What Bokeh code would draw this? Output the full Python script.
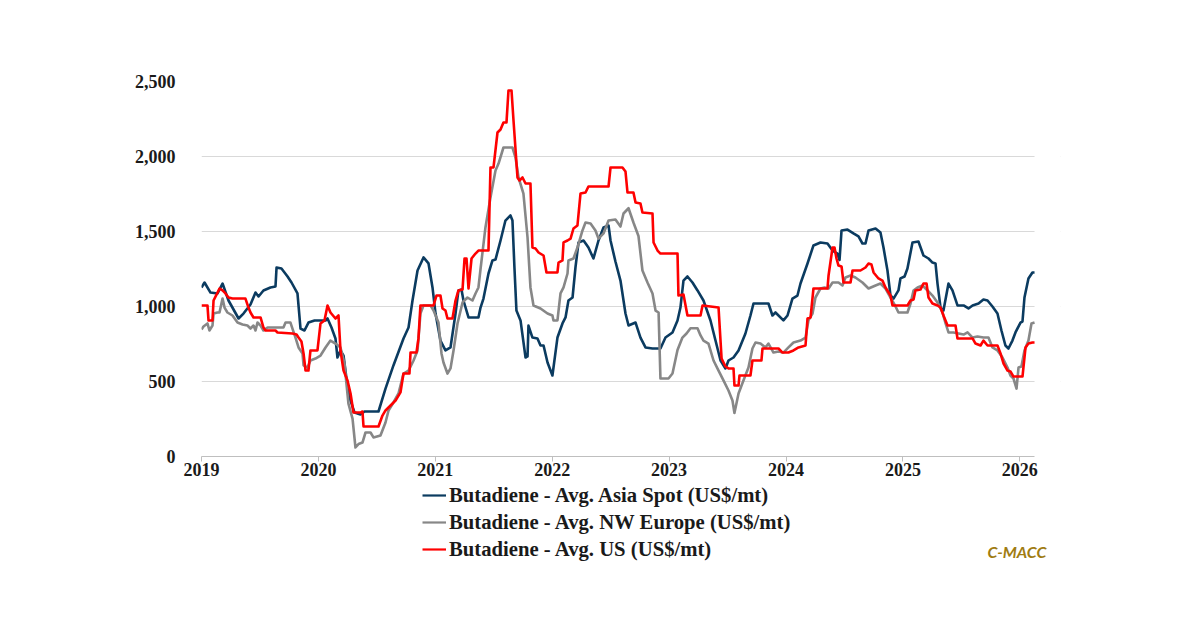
from bokeh.plotting import figure
from bokeh.layouts import column
from bokeh.models import Range1d, FixedTicker, NumeralTickFormatter, Legend, LegendItem, Label, BoxAnnotation
from bokeh.embed import file_html
from bokeh.resources import INLINE

# ---- data (time in decimal years, prices in US$/mt) ----
asia_t = [2019.000, 2019.026, 2019.077, 2019.137, 2019.180, 2019.231, 2019.317, 2019.359, 2019.419, 2019.462,
          2019.488, 2019.530, 2019.590, 2019.633, 2019.642, 2019.684, 2019.736, 2019.770, 2019.821, 2019.847,
          2019.881, 2019.915, 2019.967, 2020.061, 2020.078, 2020.112, 2020.146, 2020.163, 2020.189, 2020.215,
          2020.240, 2020.275, 2020.309, 2020.360, 2020.394, 2020.514, 2020.574, 2020.642, 2020.728, 2020.771,
          2020.805, 2020.848, 2020.899, 2020.942, 2020.976, 2021.002, 2021.044, 2021.087, 2021.130, 2021.173,
          2021.198, 2021.224, 2021.241, 2021.284, 2021.369, 2021.387, 2021.412, 2021.455, 2021.489, 2021.515,
          2021.558, 2021.600, 2021.643, 2021.660, 2021.677, 2021.694, 2021.729, 2021.772, 2021.789, 2021.797,
          2021.831, 2021.874, 2021.900, 2021.926, 2021.960, 2022.002, 2022.045, 2022.088, 2022.114, 2022.139,
          2022.174, 2022.199, 2022.225, 2022.268, 2022.310, 2022.353, 2022.396, 2022.439, 2022.482, 2022.499,
          2022.541, 2022.584, 2022.627, 2022.653, 2022.713, 2022.755, 2022.798, 2022.858, 2022.926, 2022.969,
          2023.029, 2023.072, 2023.097, 2023.123, 2023.157, 2023.200, 2023.243, 2023.294, 2023.354, 2023.397,
          2023.440, 2023.482, 2023.508, 2023.551, 2023.594, 2023.653, 2023.696, 2023.722, 2023.782, 2023.850,
          2023.884, 2023.910, 2023.978, 2024.013, 2024.055, 2024.098, 2024.124, 2024.184, 2024.235, 2024.295,
          2024.355, 2024.398, 2024.440, 2024.458, 2024.475, 2024.526, 2024.577, 2024.620, 2024.654, 2024.680,
          2024.706, 2024.766, 2024.808, 2024.834, 2024.868, 2024.894, 2024.920, 2024.962, 2024.979, 2025.014,
          2025.039, 2025.082, 2025.133, 2025.176, 2025.219, 2025.253, 2025.279, 2025.296, 2025.322, 2025.347,
          2025.390, 2025.424, 2025.467, 2025.519, 2025.561, 2025.596, 2025.647, 2025.689, 2025.724, 2025.766,
          2025.809, 2025.843, 2025.877, 2025.903, 2025.937, 2025.963, 2026.006, 2026.023, 2026.040, 2026.074,
          2026.108, 2026.126]
asia_v = [1127, 1160, 1093, 1087, 1153, 1040, 920, 953, 1013, 1093,
          1067, 1107, 1127, 1133, 1260, 1253, 1200, 1160, 1087, 853,
          840, 893, 907, 907, 920, 860, 787, 660, 707, 673,
          520, 373, 293, 280, 300, 300, 453, 607, 787, 860,
          1040, 1240, 1327, 1287, 1127, 953, 773, 707, 727, 953,
          1107, 1113, 1040, 927, 927, 993, 1053, 1220, 1307, 1313,
          1440, 1573, 1607, 1573, 1260, 973, 907, 660, 667, 873,
          793, 787, 740, 740, 627, 540, 793, 887, 927, 1040,
          1060, 1260, 1427, 1440, 1393, 1320, 1440, 1527, 1540, 1440,
          1300, 1173, 953, 873, 893, 793, 727, 720, 720, 793,
          827, 907, 993, 1173, 1200, 1160, 1107, 1040, 907, 773,
          640, 587, 640, 660, 707, 820, 940, 1020, 1020, 1020,
          940, 960, 907, 940, 1053, 1073, 1153, 1287, 1407, 1427,
          1420, 1373, 1353, 1310, 1507, 1513, 1487, 1467, 1420, 1420,
          1507, 1520, 1493, 1393, 1240, 1073, 1053, 1107, 1187, 1200,
          1253, 1427, 1433, 1340, 1320, 1293, 1287, 1153, 993, 973,
          1153, 1107, 1007, 1007, 987, 1007, 1020, 1047, 1040, 1000,
          953, 840, 740, 720, 773, 827, 893, 900, 1060, 1187,
          1227, 1227]

europe_t = [2019.000, 2019.017, 2019.051, 2019.068, 2019.094, 2019.103, 2019.137, 2019.154, 2019.180, 2019.197,
            2019.222, 2019.265, 2019.308, 2019.351, 2019.393, 2019.419, 2019.445, 2019.462, 2019.479, 2019.505,
            2019.530, 2019.565, 2019.701, 2019.719, 2019.761, 2019.778, 2019.804, 2019.830, 2019.864, 2019.873,
            2019.907, 2019.932, 2019.975, 2020.018, 2020.061, 2020.103, 2020.146, 2020.189, 2020.223, 2020.257,
            2020.292, 2020.317, 2020.343, 2020.377, 2020.403, 2020.446, 2020.471, 2020.531, 2020.574, 2020.600,
            2020.642, 2020.685, 2020.728, 2020.771, 2020.814, 2020.848, 2020.873, 2020.899, 2020.959, 2020.985,
            2021.027, 2021.053, 2021.070, 2021.104, 2021.130, 2021.156, 2021.190, 2021.233, 2021.275, 2021.318,
            2021.344, 2021.369, 2021.387, 2021.429, 2021.472, 2021.515, 2021.541, 2021.583, 2021.660, 2021.686,
            2021.712, 2021.754, 2021.789, 2021.814, 2021.840, 2021.900, 2021.960, 2022.002, 2022.011, 2022.045,
            2022.071, 2022.097, 2022.131, 2022.139, 2022.182, 2022.216, 2022.259, 2022.285, 2022.328, 2022.370,
            2022.396, 2022.439, 2022.482, 2022.541, 2022.584, 2022.610, 2022.653, 2022.695, 2022.738, 2022.772,
            2022.815, 2022.858, 2022.884, 2022.910, 2022.926, 2022.995, 2023.029, 2023.072, 2023.114, 2023.149,
            2023.183, 2023.243, 2023.269, 2023.294, 2023.337, 2023.380, 2023.423, 2023.465, 2023.508, 2023.542,
            2023.559, 2023.594, 2023.636, 2023.679, 2023.713, 2023.739, 2023.782, 2023.824, 2023.850, 2023.893,
            2023.936, 2023.978, 2024.021, 2024.064, 2024.124, 2024.167, 2024.192, 2024.227, 2024.252, 2024.295,
            2024.329, 2024.364, 2024.398, 2024.449, 2024.483, 2024.509, 2024.552, 2024.594, 2024.654, 2024.706,
            2024.766, 2024.808, 2024.851, 2024.894, 2024.937, 2024.962, 2025.039, 2025.065, 2025.091, 2025.125,
            2025.168, 2025.211, 2025.253, 2025.296, 2025.339, 2025.365, 2025.390, 2025.433, 2025.476, 2025.519,
            2025.553, 2025.596, 2025.638, 2025.689, 2025.732, 2025.766, 2025.809, 2025.852, 2025.895, 2025.920,
            2025.946, 2025.972, 2025.989, 2026.014, 2026.040, 2026.074, 2026.100, 2026.126]
europe_v = [847, 867, 887, 840, 873, 953, 960, 960, 1053, 993,
            960, 940, 893, 880, 873, 853, 873, 840, 893, 873,
            840, 860, 860, 893, 893, 853, 793, 727, 687, 607,
            593, 640, 653, 673, 727, 773, 753, 727, 620, 353,
            253, 60, 83, 93, 160, 160, 127, 140, 227, 307,
            360, 420, 553, 573, 640, 707, 953, 1007, 1007, 973,
            893, 687, 627, 553, 587, 707, 887, 1027, 1060, 1040,
            1087, 1127, 1250, 1527, 1727, 1907, 1953, 2060, 2060, 1993,
            1860, 1753, 1460, 1127, 1007, 987, 953, 940, 907, 907,
            1087, 1127, 1220, 1307, 1320, 1393, 1507, 1560, 1553, 1507,
            1453, 1487, 1573, 1580, 1533, 1620, 1655, 1560, 1470, 1240,
            1160, 1087, 973, 960, 520, 520, 553, 710, 793, 820,
            855, 855, 807, 773, 753, 640, 573, 507, 440, 373,
            290, 420, 507, 593, 720, 760, 753, 727, 753, 693,
            700, 693, 727, 760, 773, 793, 907, 953, 1060, 1120,
            1127, 1120, 1160, 1160, 1140, 1193, 1207, 1193, 1160, 1120,
            1140, 1153, 1120, 1060, 1000, 960, 960, 1020, 1107, 1127,
            1140, 1107, 1073, 1027, 960, 887, 827, 827, 820, 813,
            827, 793, 800, 793, 793, 727, 707, 660, 593, 540,
            520, 453, 593, 600, 707, 773, 887, 893]

us_t = [2019.000, 2019.051, 2019.060, 2019.094, 2019.103, 2019.137, 2019.154, 2019.180, 2019.205, 2019.231,
        2019.265, 2019.376, 2019.402, 2019.419, 2019.445, 2019.505, 2019.530, 2019.547, 2019.633, 2019.650,
        2019.778, 2019.813, 2019.830, 2019.855, 2019.873, 2019.890, 2019.915, 2019.932, 2019.992, 2020.018,
        2020.052, 2020.078, 2020.103, 2020.146, 2020.172, 2020.189, 2020.215, 2020.249, 2020.275, 2020.300,
        2020.360, 2020.377, 2020.386, 2020.514, 2020.548, 2020.574, 2020.617, 2020.660, 2020.702, 2020.728,
        2020.779, 2020.788, 2020.839, 2020.856, 2020.873, 2020.985, 2021.010, 2021.044, 2021.062, 2021.087,
        2021.104, 2021.147, 2021.173, 2021.198, 2021.233, 2021.250, 2021.267, 2021.284, 2021.310, 2021.344,
        2021.369, 2021.455, 2021.472, 2021.498, 2021.532, 2021.558, 2021.583, 2021.609, 2021.626, 2021.652,
        2021.669, 2021.703, 2021.720, 2021.746, 2021.772, 2021.814, 2021.831, 2021.857, 2021.883, 2021.926,
        2021.951, 2022.045, 2022.054, 2022.088, 2022.097, 2022.131, 2022.157, 2022.182, 2022.216, 2022.242,
        2022.285, 2022.310, 2022.482, 2022.499, 2022.601, 2022.627, 2022.644, 2022.695, 2022.713, 2022.755,
        2022.772, 2022.858, 2022.867, 2022.901, 2022.926, 2023.072, 2023.080, 2023.123, 2023.157, 2023.269,
        2023.286, 2023.423, 2023.449, 2023.482, 2023.508, 2023.551, 2023.559, 2023.594, 2023.602, 2023.696,
        2023.713, 2023.790, 2023.799, 2023.936, 2023.970, 2024.021, 2024.064, 2024.107, 2024.167, 2024.184,
        2024.210, 2024.235, 2024.355, 2024.364, 2024.398, 2024.415, 2024.432, 2024.449, 2024.475, 2024.492,
        2024.552, 2024.569, 2024.637, 2024.680, 2024.706, 2024.731, 2024.749, 2024.791, 2024.825, 2024.851,
        2024.894, 2024.911, 2025.039, 2025.065, 2025.091, 2025.107, 2025.150, 2025.176, 2025.202, 2025.219,
        2025.253, 2025.296, 2025.322, 2025.347, 2025.382, 2025.450, 2025.467, 2025.596, 2025.621, 2025.664,
        2025.689, 2025.724, 2025.809, 2025.835, 2025.861, 2025.895, 2025.920, 2025.946, 2026.023, 2026.049,
        2026.074, 2026.108, 2026.126]
us_v = [1007, 1007, 907, 907, 1040, 1093, 1120, 1107, 1087, 1060,
        1053, 1053, 993, 960, 927, 927, 860, 840, 840, 827,
        820, 813, 793, 767, 687, 573, 573, 707, 707, 887,
        907, 1007, 960, 920, 940, 707, 573, 507, 420, 293,
        293, 300, 200, 200, 273, 307, 340, 373, 427, 553,
        553, 693, 693, 787, 1007, 1007, 1073, 1073, 987, 973,
        920, 920, 1040, 1107, 1113, 1320, 1320, 1120, 1320, 1353,
        1373, 1373, 1927, 1927, 2160, 2180, 2227, 2227, 2440, 2440,
        2240, 1860, 1840, 1860, 1820, 1820, 1393, 1387, 1360, 1340,
        1227, 1227, 1293, 1307, 1427, 1440, 1453, 1520, 1540, 1753,
        1760, 1800, 1800, 1927, 1927, 1900, 1760, 1760, 1693, 1687,
        1627, 1620, 1427, 1373, 1353, 1353, 1073, 1080, 940, 940,
        1007, 993, 653, 600, 587, 587, 473, 473, 540, 540,
        640, 640, 720, 720, 693, 693, 707, 727, 740, 920,
        927, 1120, 1120, 1207, 1393, 1393, 1320, 1273, 1267, 1160,
        1160, 1240, 1240, 1260, 1287, 1280, 1227, 1187, 1173, 1127,
        1073, 1007, 1007, 1040, 1047, 1107, 1113, 1153, 1153, 1060,
        1020, 1007, 993, 940, 873, 873, 787, 787, 753, 740,
        773, 740, 740, 687, 620, 573, 567, 533, 533, 727,
        753, 760, 760]

year_ticks = [2019, 2020, 2021, 2022, 2023, 2024, 2025, 2026]
value_ticks = [0, 500, 1000, 1500, 2000, 2500]
series_names = ["Butadiene - Avg. Asia Spot (US$/mt)",
                "Butadiene - Avg. NW Europe (US$/mt)",
                "Butadiene - Avg. US (US$/mt)"]
series_colors = ["#0b3b60", "#878787", "#ff0000"]
source_note = "C-MACC"

serif = "Liberation Serif"
W = 1184
PH = 483          # height of the chart part
LH = 611 - PH     # height of the legend strip
FRAME_L, FRAME_R = 201, 1060     # frame, a little wider than the data so the source note fits below
X0 = 2019.0
X_DATA_END = max(asia_t[-1], europe_t[-1], us_t[-1])
PX_PER_YEAR = 116.9
X1 = X0 + (FRAME_R - FRAME_L) / PX_PER_YEAR

# ---------------- main chart ----------------
p = figure(width=W, height=PH, output_backend="svg", toolbar_location=None,
           x_range=Range1d(X0, X1), y_range=Range1d(0, 2500),
           min_border_left=FRAME_L, min_border_right=W - FRAME_R, min_border_top=81, min_border_bottom=PH - 456)
p.outline_line_color = None
p.background_fill_color = "white"
p.border_fill_color = "white"

p.xgrid.grid_line_color = None
p.ygrid.grid_line_color = "#d9d9d9"
p.ygrid.grid_line_width = 1.2
p.ygrid.ticker = FixedTicker(ticks=value_ticks)

p.xaxis.ticker = FixedTicker(ticks=year_ticks)
p.xaxis.bounds = (X0, X_DATA_END)
p.xaxis.major_label_overrides = {y: str(y) for y in year_ticks}
p.xaxis.axis_line_color = "#bfbfbf"
p.xaxis.axis_line_width = 1.2
p.xaxis.major_tick_line_color = "#bfbfbf"
p.xaxis.major_tick_in = 0
p.xaxis.major_tick_out = 5
p.xaxis.minor_tick_line_color = None
p.xaxis.major_label_standoff = 1
p.xaxis.major_label_text_font = serif
p.xaxis.major_label_text_font_style = "bold"
p.xaxis.major_label_text_font_size = "18px"
p.xaxis.major_label_text_color = "#1a1a1a"

p.yaxis.ticker = FixedTicker(ticks=value_ticks)
p.yaxis.formatter = NumeralTickFormatter(format="0,0")
p.yaxis.axis_line_color = None
p.yaxis.major_tick_line_color = None
p.yaxis.minor_tick_line_color = None
p.yaxis.major_label_standoff = 20
p.yaxis.major_label_text_font = serif
p.yaxis.major_label_text_font_style = "bold"
p.yaxis.major_label_text_font_size = "18px"
p.yaxis.major_label_text_color = "#1a1a1a"

# white mask so the grid lines stop where the data stops
p.add_layout(BoxAnnotation(left=X_DATA_END, fill_color="white", fill_alpha=1.0,
                           line_color=None, level="underlay"))

for t, v, c in [(asia_t, asia_v, series_colors[0]),
                (europe_t, europe_v, series_colors[1]),
                (us_t, us_v, series_colors[2])]:
    p.line(t, v, line_color=c, line_width=2.6, line_join="round")

# ---------------- legend strip below (frame aligned with the chart's frame) ----------------
q = figure(width=W, height=LH, output_backend="svg", toolbar_location=None,
           x_range=Range1d(FRAME_L, FRAME_R), y_range=Range1d(611, PH),
           min_border_left=FRAME_L, min_border_right=W - FRAME_R, min_border_top=0, min_border_bottom=0)
q.axis.visible = False
q.grid.visible = False
q.outline_line_color = None
q.background_fill_color = "white"
q.border_fill_color = "white"

# legend sample lines (kept outside the visible strip; only their legend glyphs show)
legend_renderers = [q.line(x=[0, 1], y=[0, 0], line_color=c, line_width=2.2) for c in series_colors]
row_h = 24
legend_h = 3 * row_h + 2 * 3
legend = Legend(items=[LegendItem(label=n, renderers=[r]) for n, r in zip(series_names, legend_renderers)],
                location=(422 - FRAME_L, LH - legend_h), orientation="vertical",
                label_text_font=serif, label_text_font_style="bold",
                label_text_font_size="20.7px", label_text_color="#1a1a1a",
                glyph_width=24, glyph_height=row_h, label_height=row_h, spacing=3,
                padding=0, margin=0, label_standoff=3,
                border_line_color=None, background_fill_alpha=0)
q.add_layout(legend, "center")

q.add_layout(Label(x=987, y=551, text=source_note,
                   text_font="Lato", text_font_style="bold italic", text_font_size="16px",
                   text_color="#a07c12", text_baseline="middle"))

open("out.html", "w").write(file_html(column(p, q, spacing=0), INLINE))
